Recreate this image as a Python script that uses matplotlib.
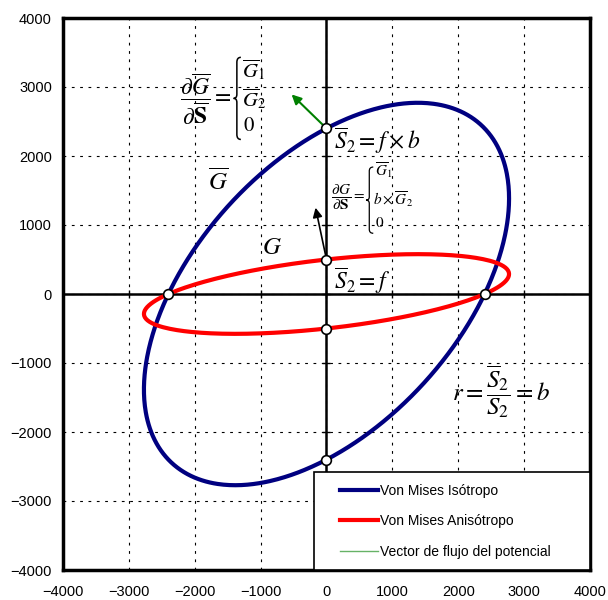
import numpy as np
import matplotlib
matplotlib.use("Agg")
import matplotlib.pyplot as plt
from matplotlib.path import Path
from matplotlib.patches import PathPatch
from matplotlib.legend_handler import HandlerLine2D

plt.rcParams['font.family'] = ['Liberation Sans', 'DejaVu Sans']
plt.rcParams['mathtext.fontset'] = 'stix'

# yield stress and anisotropy ratio r = S2bar / S2
sigma = 2400
b = 4.8

# points marked on the curves
pts_x = [-2400, 2400, 0, 0, 0, 0]
pts_y = [0, 0, 2400, -2400, 500, -500]

# flow vectors: start and end
green_vec = [(0, 2400), (-560, 2920)]
black_vec = [(0, 500), (-175, 1290)]

ticks = [-4000, -3000, -2000, -1000, 0, 1000, 2000, 3000, 4000]


def brace(ax, x0, x1, y0, y1, lw=1.0):
    """Left curly brace between y0 (bottom) and y1 (top), x0 = tip, x1 = hooks."""
    xm = x0 + 0.45 * (x1 - x0)
    h = y1 - y0
    ym = y0 + 0.5 * h
    verts = [(x1, y1), (xm, y1), (xm, y1 - 0.06 * h),
             (xm, ym + 0.05 * h),
             (xm, ym), (x0, ym),
             (xm, ym), (xm, ym - 0.05 * h),
             (xm, y0 + 0.06 * h),
             (xm, y0), (x1, y0)]
    codes = [Path.MOVETO, Path.CURVE3, Path.CURVE3,
             Path.LINETO,
             Path.CURVE3, Path.CURVE3,
             Path.CURVE3, Path.CURVE3,
             Path.LINETO,
             Path.CURVE3, Path.CURVE3]
    ax.add_patch(PathPatch(Path(verts, codes), fill=False, lw=lw, color='black', zorder=4))


# von Mises ellipses in polar form
t = np.linspace(0, 2 * np.pi, 721)
c, s = np.cos(t), np.sin(t)
r_iso = sigma / np.sqrt(c**2 - c * s + s**2)
r_ani = sigma / np.sqrt(c**2 - b * c * s + (b * s)**2)

fig = plt.figure(figsize=(6.08, 6.0), dpi=100)
ax = fig.add_axes([0.1036, 0.05, 0.8668, 0.92])

ax.set_xlim(-4000, 4000)
ax.set_ylim(-4000, 4000)
ax.set_xticks(ticks)
ax.set_yticks(ticks)
ax.tick_params(labelsize=10.5, length=0)
ax.tick_params(axis='x', pad=11)
ax.tick_params(axis='y', pad=8)
ax.grid(True, color='black', linestyle=(0, (2.5, 5)), linewidth=0.8)
for sp in ax.spines.values():
    sp.set_linewidth(2.5)

ax.axhline(0, color='black', lw=1.8, zorder=2)
ax.axvline(0, color='black', lw=1.8, zorder=2)
# small ticks on the zero axes
ax.plot(ticks, [0] * len(ticks), ls='none', marker='|', ms=6, color='black', zorder=2)
ax.plot([0] * len(ticks), ticks, ls='none', marker='_', ms=6, color='black', zorder=2)

ax.plot(r_iso * c, r_iso * s, color='#000080', lw=3, zorder=3, label='Von Mises Isótropo')
ax.plot(r_ani * c, r_ani * s, color='#ff0000', lw=3, zorder=3, label='Von Mises Anisótropo')
ax.plot([], [], color='#008000', lw=1, alpha=0.6, label='Vector de flujo del potencial')

ax.annotate('', xy=green_vec[1], xytext=green_vec[0],
            arrowprops=dict(arrowstyle='-|>', color='#008000', lw=1.5, mutation_scale=14), zorder=4)
ax.annotate('', xy=black_vec[1], xytext=black_vec[0],
            arrowprops=dict(arrowstyle='-|>', color='black', lw=1.2, mutation_scale=14), zorder=4)

ax.plot(pts_x, pts_y, ls='none', marker='o', ms=7, mfc='white', mec='black', mew=1.2, zorder=5)

# derivative of the isotropic surface
ax.text(-1440, 2826, r'$\dfrac{\partial \overline{G}}{\partial \overline{\mathbf{S}}}=$',
        fontsize=17, ha='right', va='center')
brace(ax, -1410, -1300, 2240, 3430, lw=1.1)
ax.text(-1280, 3250, r'$\overline{G}_1$', fontsize=15, ha='left', va='center')
ax.text(-1280, 2826, r'$\overline{G}_2$', fontsize=15, ha='left', va='center')
ax.text(-1270, 2440, r'$0$', fontsize=15, ha='left', va='center')

ax.text(120, 2230, r'$\overline{S}_2=f\times b$', fontsize=17, ha='left', va='center')
ax.text(-1650, 1640, r'$\overline{G}$', fontsize=18, ha='center', va='center')

# derivative of the anisotropic surface
ax.text(590, 1390, r'$\dfrac{\partial G}{\partial \mathbf{S}}=$', fontsize=11, ha='right', va='center')
brace(ax, 600, 710, 880, 1840, lw=0.9)
ax.text(740, 1790, r'$\overline{G}_1$', fontsize=11, ha='left', va='center')
ax.text(705, 1370, r'$b\times\overline{G}_2$', fontsize=11, ha='left', va='center')
ax.text(740, 1030, r'$0$', fontsize=11, ha='left', va='center')

ax.text(-830, 680, r'$G$', fontsize=18, ha='center', va='center')
ax.text(120, 190, r'$\overline{S}_2=f$', fontsize=17, ha='left', va='center')
ax.text(1900, -1420, r'$r=\dfrac{\overline{S}_2}{S_2}=b$', fontsize=18, ha='left', va='center')

hline = HandlerLine2D(xpad=1.1)
leg = ax.legend(loc='lower left', bbox_to_anchor=(0.476, 0.0, 0.524, 0.181), mode='expand',
                fontsize=10, fancybox=False, framealpha=1, edgecolor='black',
                borderaxespad=0, handlelength=3.85, labelspacing=1.2, handletextpad=0.1,
                borderpad=0.8,
                handler_map={ln: hline for ln in ax.get_lines()})
leg.get_frame().set_linewidth(1.2)
leg.set_zorder(6)

fig.savefig('out.png', dpi=100)
